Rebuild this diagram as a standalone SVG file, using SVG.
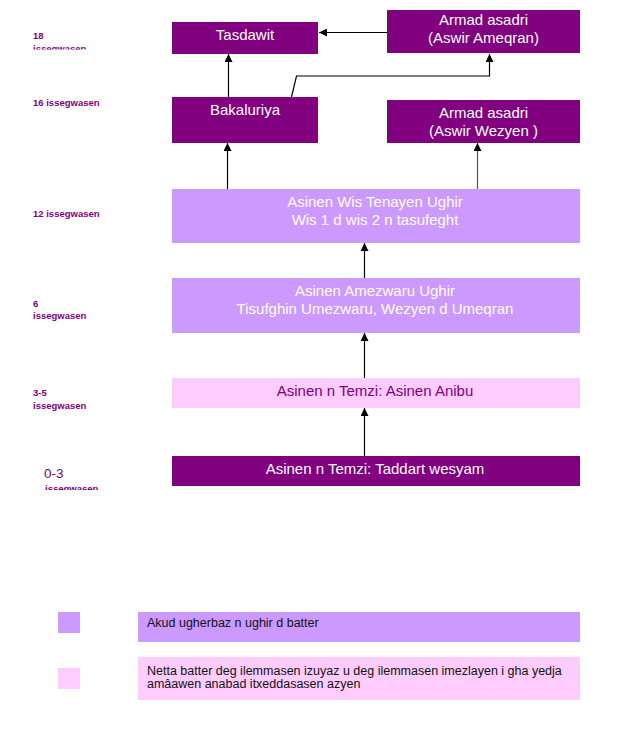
<svg xmlns="http://www.w3.org/2000/svg" width="620" height="733" viewBox="0 0 620 733">
<style>
.dark{fill:#800080}
.lav{fill:#CC99FF}
.pink{fill:#FFCCFF}
.nt{font-family:"Liberation Sans",Arial,sans-serif;font-size:15px;fill:#ffffff;text-anchor:middle}
.ntp{font-family:"Liberation Sans",Arial,sans-serif;font-size:15px;fill:#800080;text-anchor:middle}
.age{font-family:"Liberation Sans",Arial,sans-serif;font-size:9.5px;font-weight:bold;fill:#800080}
.lg{font-family:"Liberation Sans",Arial,sans-serif;font-size:12.5px;fill:#111111}
.con{fill:none;stroke:#000;stroke-width:1.2}
</style>
<defs>
<marker id="ah" markerUnits="userSpaceOnUse" markerWidth="8" markerHeight="8" refX="8" refY="4" orient="auto">
<path d="M0,0 L8,4 L0,8 z" fill="#000"/>
</marker>
<clipPath id="c18"><rect x="0" y="0" width="170" height="49.5"/></clipPath>
<clipPath id="c03"><rect x="0" y="460" width="170" height="30"/></clipPath>
</defs>
<rect width="620" height="733" fill="#ffffff"/>

<g id="ages">
<text class="age" x="33" y="39">18</text>
<text class="age" x="33" y="52" clip-path="url(#c18)">issegwasen</text>
<text class="age" x="33" y="106">16 issegwasen</text>
<text class="age" x="33" y="217">12 issegwasen</text>
<text class="age" x="33" y="307">6</text>
<text class="age" x="33" y="319">issegwasen</text>
<text class="age" x="33" y="396">3-5</text>
<text class="age" x="33" y="409">issegwasen</text>
<text x="44" y="478" style="font-family:'Liberation Sans',Arial,sans-serif;font-size:13.5px;fill:#800080">0-3</text>
<text class="age" x="45" y="492" clip-path="url(#c03)">issegwasen</text>
</g>

<g id="connectors">
<line class="con" x1="387" y1="32.5" x2="319" y2="32.5" marker-end="url(#ah)"/>
<line class="con" x1="228.5" y1="97" x2="228.5" y2="54" marker-end="url(#ah)"/>
<polyline class="con" points="291.5,97 296.5,76 489.5,76 489.5,54" marker-end="url(#ah)"/>
<line class="con" x1="227.5" y1="189" x2="227.5" y2="143" marker-end="url(#ah)"/>
<line class="con" x1="477.5" y1="189" x2="477.5" y2="143" marker-end="url(#ah)" style="stroke:#555"/>
<line class="con" x1="364.5" y1="278" x2="364.5" y2="243" marker-end="url(#ah)"/>
<line class="con" x1="364.5" y1="378" x2="364.5" y2="333" marker-end="url(#ah)"/>
<line class="con" x1="364.5" y1="456" x2="364.5" y2="408" marker-end="url(#ah)"/>
</g>

<g id="tasdawit">
<rect class="dark" x="172" y="22" width="146" height="32"/>
<text class="nt" x="245" y="40">Tasdawit</text>
</g>
<g id="armad-ameqran">
<rect class="dark" x="387" y="10" width="193" height="43"/>
<text class="nt" x="483.5" y="25">Armad asadri</text>
<text class="nt" x="483.5" y="43">(Aswir Ameqran)</text>
</g>
<g id="bakaluriya">
<rect class="dark" x="172" y="97" width="146" height="46"/>
<text class="nt" x="245" y="115">Bakaluriya</text>
</g>
<g id="armad-wezyen">
<rect class="dark" x="387" y="100" width="193" height="43"/>
<text class="nt" x="483.5" y="118">Armad asadri</text>
<text class="nt" x="483.5" y="136">(Aswir Wezyen )</text>
</g>
<g id="wis-tenayen">
<rect class="lav" x="172" y="189" width="408" height="54"/>
<text class="nt" x="375" y="207">Asinen Wis Tenayen Ughir</text>
<text class="nt" x="375" y="224.5">Wis 1 d wis 2 n tasufeght</text>
</g>
<g id="amezwaru">
<rect class="lav" x="172" y="278" width="408" height="55"/>
<text class="nt" x="375" y="296">Asinen Amezwaru Ughir</text>
<text class="nt" x="375" y="313.5">Tisufghin Umezwaru, Wezyen d Umeqran</text>
</g>
<g id="anibu">
<rect class="pink" x="172" y="378" width="408" height="30"/>
<text class="ntp" x="375" y="396">Asinen n Temzi: Asinen Anibu</text>
</g>
<g id="taddart">
<rect class="dark" x="172" y="456" width="408" height="30"/>
<text class="nt" x="375" y="473.5">Asinen n Temzi: Taddart wesyam</text>
</g>

<g id="legend-1">
<rect class="lav" x="58" y="612" width="22" height="21"/>
<rect class="lav" x="138" y="612" width="442" height="30"/>
<text class="lg" x="147" y="627">Akud ugherbaz n ughir d batter</text>
</g>
<g id="legend-2">
<rect class="pink" x="58" y="668" width="22" height="21"/>
<rect class="pink" x="138" y="657" width="442" height="43"/>
<text class="lg" x="147" y="675">Netta batter deg ilemmasen izuyaz u deg ilemmasen imezlayen i gha yedja</text>
<text class="lg" x="147" y="688">amâawen anabad itxeddasasen azyen</text>
</g>
</svg>
